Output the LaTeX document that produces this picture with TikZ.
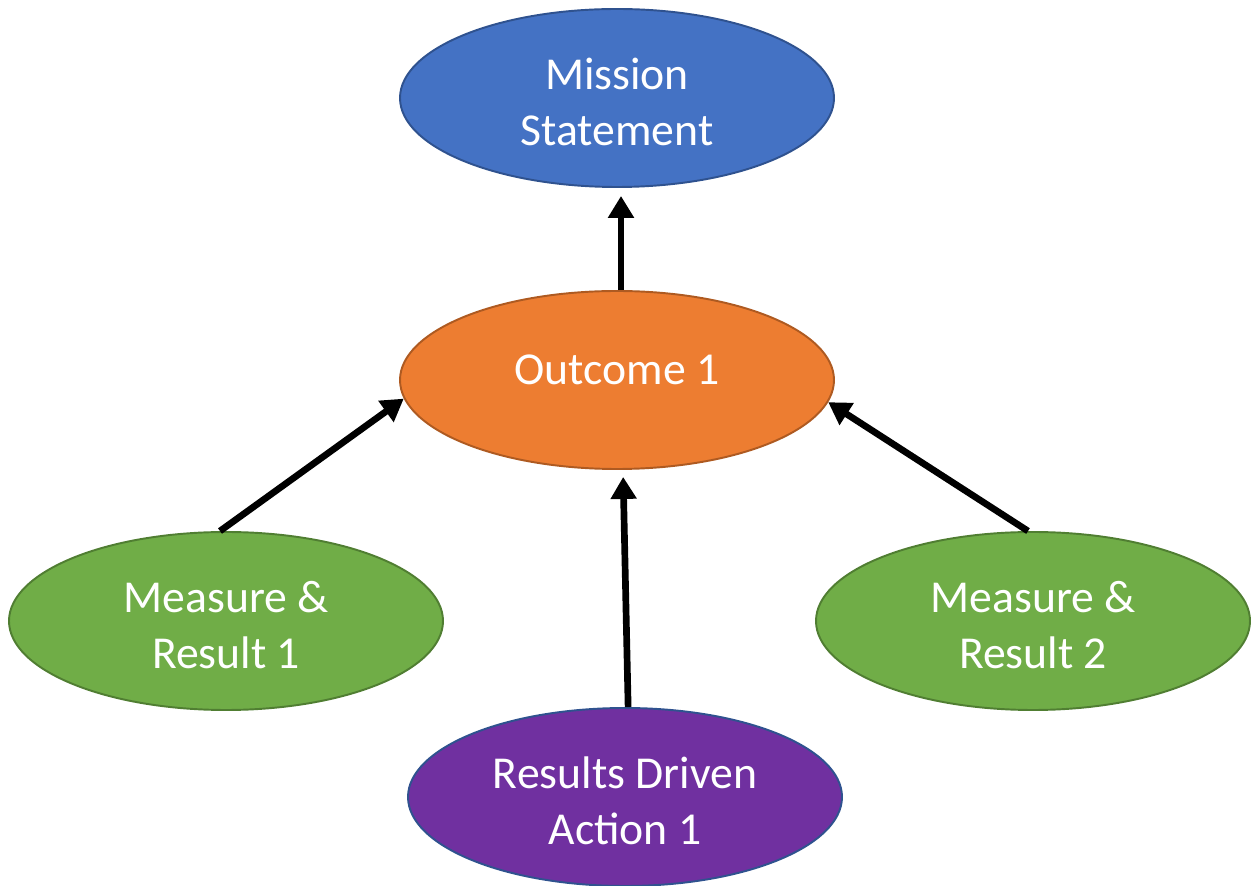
\documentclass[tikz,border=0pt]{standalone}
\usepackage{fontspec}
\setmainfont{Carlito}
\usetikzlibrary{shapes.geometric,arrows.meta}

\definecolor{missionblue}{HTML}{4472C4}
\definecolor{missionedge}{HTML}{2F528F}
\definecolor{outcomeorange}{HTML}{ED7D31}
\definecolor{outcomeedge}{HTML}{AE5A21}
\definecolor{measuregreen}{HTML}{70AD47}
\definecolor{measureedge}{HTML}{507E32}
\definecolor{actionpurple}{HTML}{7030A0}

\begin{document}
\begin{tikzpicture}

\tikzset{bubble/.style={ellipse,draw=#1,line width=1.1pt,inner sep=0pt,
    minimum width=8.68cm,minimum height=3.56cm,align=center,text=white,
    font=\fontsize{26}{32}\selectfont},
  twolines/.style={text height=1.92cm,text depth=0cm},
  link/.style={line width=3.8pt,-{Triangle[width=0.5cm,length=0.44cm]}}}

\useasboundingbox (0,0) rectangle (25.02,17.72);

%% Mission
\node[bubble=missionedge,fill=missionblue,twolines] (mission) at (12.34,15.76) {Mission\\Statement};

%% Outcome
\node[bubble=outcomeedge,fill=outcomeorange,text depth=0.4cm] (outcome) at (12.34,10.12) {Outcome 1};

%% Measures
\node[bubble=measureedge,fill=measuregreen,twolines] (measure1) at (4.52,5.30) {Measure \&\\Result 1};
\node[bubble=measureedge,fill=measuregreen,twolines] (measure2) at (20.66,5.30) {Measure \&\\Result 2};

%% Action
\node[bubble=missionedge,fill=actionpurple,twolines] (action) at (12.50,1.78) {Results Driven\\Action 1};

%% Links
\draw[link,shorten >=0.16cm] ([xshift=0.08cm]outcome.north) -- ([xshift=0.08cm]mission.south);
\draw[link] ([xshift=-0.12cm]measure1.north) -- (outcome.185.4);
\draw[link] ([xshift=-0.1cm]measure2.north) -- (outcome.354.2);
\draw[link,shorten >=0.14cm] (action.88) -- ([xshift=0.12cm]outcome.south);

\end{tikzpicture}
\end{document}
